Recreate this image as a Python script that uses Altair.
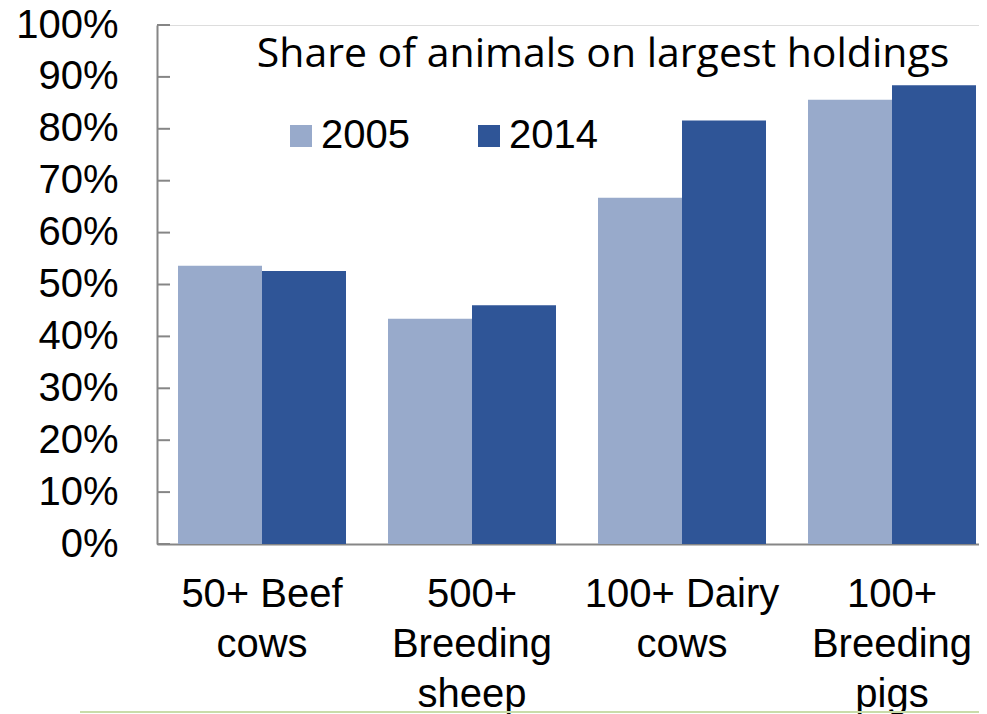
import altair as alt
import pandas as pd

categories = ["50+ Beef\ncows", "500+\nBreeding\nsheep", "100+ Dairy\ncows", "100+\nBreeding\npigs"]
years = ["2005", "2014"]
values_2005 = [0.536, 0.434, 0.667, 0.856]
values_2014 = [0.526, 0.460, 0.816, 0.884]
tick_values = [i / 10 for i in range(11)]
title_text = "Share of animals on largest holdings"

rows = []
for c, a, b in zip(categories, values_2005, values_2014):
    rows.append({"category": c, "year": "2005", "value": a})
    rows.append({"category": c, "year": "2014", "value": b})
df = pd.DataFrame(rows)
ticks_df = pd.DataFrame({"t": tick_values})

W, H = 822, 519
AX = "Liberation Sans"

xscale = alt.Scale(domain=categories, paddingInner=0.2, paddingOuter=0.1, range=[0, 840])
yscale = alt.Scale(domain=[0, 1], nice=False)

bars = alt.Chart(df).mark_bar(clip=False).encode(
    x=alt.X("category:N", sort=categories, scale=xscale,
            axis=alt.Axis(title=None, labelAngle=0, labelExpr="split(datum.label, '\\n')",
                          labelFont=AX, labelFontSize=40, labelColor="black",
                          labelLineHeight=50, labelPadding=30, labelBaseline="top",
                          ticks=False, domainColor="#868686", domainWidth=2,
                          labelLimit=400)),
    xOffset=alt.XOffset("year:N", sort=years, scale=alt.Scale(paddingInner=0, paddingOuter=0)),
    y=alt.Y("value:Q", scale=yscale,
            axis=alt.Axis(title=None, format=".0%", values=tick_values, grid=False,
                          ticks=False, labelFont=AX, labelFontSize=40, labelColor="black",
                          labelPadding=39, domainColor="#868686", domainWidth=2)),
    color=alt.Color("year:N", sort=years,
                    scale=alt.Scale(domain=years, range=["#98aacb", "#2f5597"]),
                    legend=alt.Legend(title=None, orient="none", legendX=124, legendY=91,
                                      direction="horizontal", symbolType="square",
                                      symbolSize=484, symbolStrokeWidth=0,
                                      labelFont=AX, labelFontSize=40, labelColor="black",
                                      labelOffset=0, columnPadding=59, padding=0)),
)

ticks = alt.Chart(ticks_df).mark_rule(color="#868686", strokeWidth=2).encode(
    y=alt.Y("t:Q", scale=yscale),
    x=alt.value(0),
    x2=alt.value(13),
)

title = alt.Chart(pd.DataFrame({"t": [title_text]})).mark_text(
    font="Open Sans", fontSize=41, color="black", align="center", baseline="alphabetic"
).encode(text="t:N", x=alt.value(446), y=alt.value(42))

green = alt.Chart(pd.DataFrame({"a": [0]})).mark_rule(color="#c9dcaa", strokeWidth=2).encode(
    x=alt.value(-77), x2=alt.value(830), y=alt.value(687)
)

chart = alt.layer(bars, ticks, title, green).properties(
    width=W, height=H,
    autosize=alt.AutoSizeParams(type="none"),
    padding={"left": 149, "top": 17, "right": 0, "bottom": 170},
).configure_view(stroke=None).configure(background="white")

chart.save("out.html", embed_options={"renderer": "svg", "actions": False})
